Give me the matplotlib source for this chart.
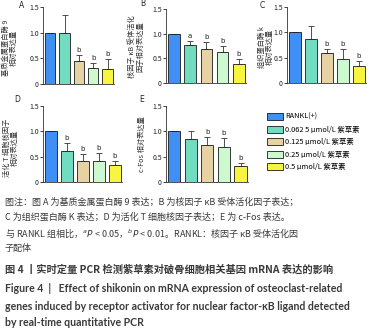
import matplotlib.pyplot as plt
from matplotlib.patches import Patch

plt.rcParams["font.family"] = ["Noto Sans CJK SC", "DejaVu Sans"]

# values (relative expression, mean and upper error)
groups = ["RANKL(+)", "0.062 5 μmol/L 紫草素", "0.125 μmol/L 紫草素",
          "0.25 μmol/L 紫草素", "0.5 μmol/L 紫草素"]
mmp9 = [1.0, 0.99, 0.44, 0.32, 0.29]
mmp9_err = [0, 0.36, 0.13, 0.08, 0.19]
mmp9_sig = ["", "", "b", "b", "b"]
rank = [1.0, 0.77, 0.69, 0.63, 0.39]
rank_err = [0, 0.09, 0.15, 0.12, 0.10]
rank_sig = ["", "a", "b", "b", "b"]
ctsk = [1.0, 0.87, 0.59, 0.48, 0.33]
ctsk_err = [0, 0.26, 0.08, 0.19, 0.10]
ctsk_sig = ["", "", "b", "b", "b"]
nfatc1 = [1.0, 0.61, 0.42, 0.41, 0.33]
nfatc1_err = [0, 0.16, 0.13, 0.16, 0.09]
nfatc1_sig = ["", "b", "b", "b", "b"]
cfos = [1.0, 0.85, 0.74, 0.69, 0.32]
cfos_err = [0, 0.15, 0.14, 0.18, 0.06]
cfos_sig = ["", "", "b", "b", "b"]

colors = ["#3f8ff5", "#72dcc0", "#e6d2a2", "#ccf9cf", "#f8f540"]

W, H = 378, 336
fig = plt.figure(figsize=(W / 100, H / 100), dpi=100)


def px_axes(x0, x1, y0, y1):
    # pixel box (top-left origin) -> figure axes
    return fig.add_axes([x0 / W, 1 - y1 / H, (x1 - x0) / W, (y1 - y0) / H])


def panel(box, vals, errs, sig, letter, letter_xy, ylabel, ylabel_xy):
    ax = px_axes(*box)
    x = range(len(vals))
    ax.bar(x, vals, width=0.73, color=colors, edgecolor="#1a1a1a",
           linewidth=0.6, zorder=2)
    ax.errorbar(x, vals, yerr=[[0] * len(errs), errs], fmt="none",
                ecolor="#333333", elinewidth=0.6, capsize=2, capthick=0.6,
                zorder=1)
    for xi, v, e, s in zip(x, vals, errs, sig):
        if s:
            ax.text(xi, v + e + 0.04, s, ha="center", va="bottom",
                    fontsize=5, color="#222222", family="DejaVu Sans")
    ax.set_xlim(-0.5, 4.45)
    ax.set_ylim(0, 1.5)
    ax.set_yticks([0, 0.5, 1.0, 1.5], ["0", "0.5", "1.0", "1.5"])
    ax.set_xticks([])
    ax.tick_params(axis="y", length=2, width=0.6, pad=1, labelsize=5,
                   colors="#222222")
    for side in ["top", "right"]:
        ax.spines[side].set_visible(False)
    for side in ["left", "bottom"]:
        ax.spines[side].set_linewidth(0.6)
        ax.spines[side].set_color("#333333")
    ax.patch.set_alpha(0)
    fig.text(letter_xy[0] / W, 1 - letter_xy[1] / H, letter, fontsize=5.5,
             ha="center", va="center", family="DejaVu Sans", color="#222222")
    fig.text(ylabel_xy[0] / W, 1 - ylabel_xy[1] / H, ylabel, fontsize=5.2,
             rotation=90, ha="center", va="center", linespacing=1.0,
             multialignment="center", color="#333333")
    return ax


panel((43, 114, 7, 84), mmp9, mmp9_err, mmp9_sig, "A", (22, 5),
      "基质金属蛋白酶 9\n相对表达量", (10, 48))
panel((166, 246, 9, 83), rank, rank_err, rank_sig, "B", (143, 4),
      "核因子 κB 受体活化\n因子相对表达量", (136, 47))
panel((287, 366, 7, 83), ctsk, ctsk_err, ctsk_sig, "C", (262, 5),
      "组织蛋白酶 k\n相对表达量", (266, 47))
panel((43, 122, 106, 182), nfatc1, nfatc1_err, nfatc1_sig, "D", (17, 99),
      "活化 T 细胞核因子\n相对表达量", (11, 148))
panel((166, 248, 106, 182), cfos, cfos_err, cfos_sig, "E", (142, 99),
      "c-Fos 相对表达量", (142, 144))

handles = [Patch(facecolor=c, edgecolor="#1a1a1a", linewidth=0.6)
           for c in colors]
fig.legend(handles, groups, loc="upper left",
           bbox_to_anchor=(267 / W, 1 - 113 / H), frameon=False,
           fontsize=5.3, handlelength=2.2, handleheight=1.1,
           handletextpad=0.3, labelspacing=0.62, borderaxespad=0,
           borderpad=0)

# caption
cap_color = "#3a3a3a"
notes = [
    "图注：图 A 为基质金属蛋白酶 9 表达；B 为核因子 κB 受体活化因子表达；",
    "C 为组织蛋白酶 K 表达；D 为活化 T 细胞核因子表达；E 为 c-Fos 表达。",
    "与 RANKL 组相比，$^{a}P$ < 0.05，$^{b}P$ < 0.01。RANKL：核因子 κB 受体活化因",
    "子配体",
]
for i, line in enumerate(notes):
    fig.text(5 / W, 1 - (202 + i * 15.5) / H, line, fontsize=6.5,
             va="center", ha="left", color=cap_color)

fig.text(5 / W, 1 - 270 / H,
         "图 4 丨实时定量 PCR 检测紫草素对破骨细胞相关基因 mRNA 表达的影响",
         fontsize=7.4, va="center", ha="left", color=cap_color,
         fontweight="bold")
title_en = [
    "Figure 4  |   Effect of shikonin on mRNA expression of osteoclast-related",
    "genes induced by receptor activator for nuclear factor-κB ligand detected",
    "by real-time quantitative PCR",
]
for i, line in enumerate(title_en):
    fig.text(5 / W, 1 - (289 + i * 17) / H, line, fontsize=7.6,
             va="center", ha="left", color=cap_color, fontweight="bold",
             family=["Lato", "DejaVu Sans"])

fig.savefig("out.png", dpi=100)
